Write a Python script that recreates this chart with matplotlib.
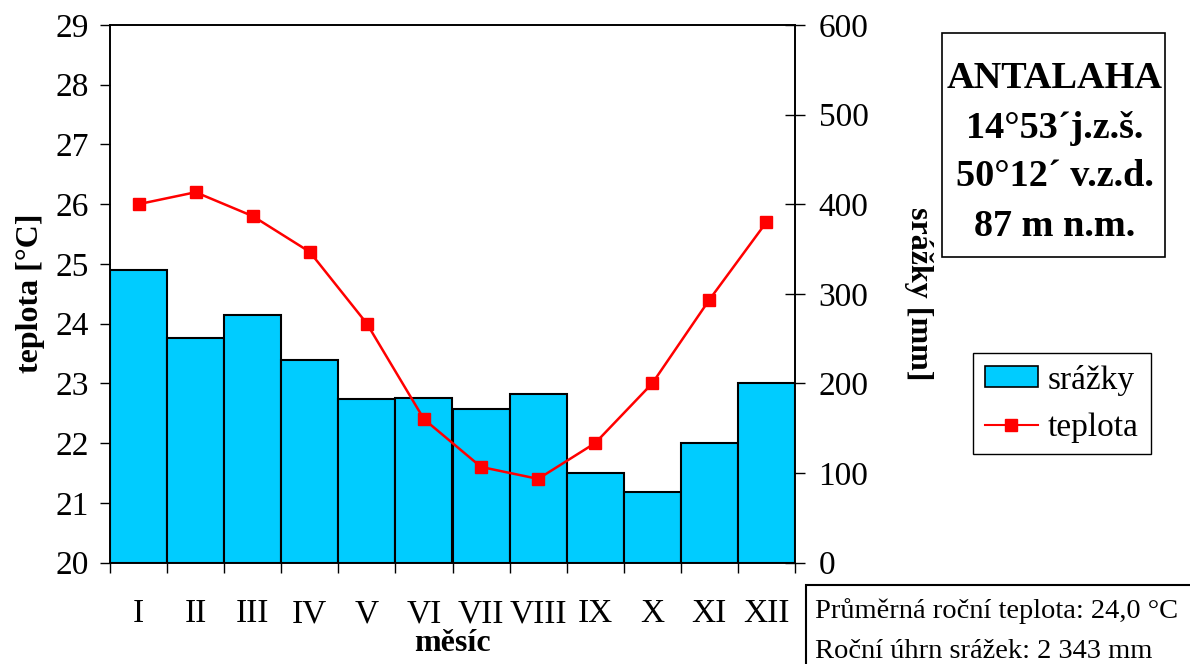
import matplotlib
matplotlib.use("Agg")
import matplotlib.pyplot as plt
from matplotlib.patches import Rectangle
from matplotlib.lines import Line2D
import numpy as np

# Climate data for Antalaha
months = ["I", "II", "III", "IV", "V", "VI", "VII", "VIII", "IX", "X", "XI", "XII"]
precip_mm = [327, 251, 276, 226, 182, 184, 171, 188, 100, 79, 133, 200]
temp_c = [26.0, 26.2, 25.8, 25.2, 24.0, 22.4, 21.6, 21.4, 22.0, 23.0, 24.4, 25.7]
temp_ticks = [20, 21, 22, 23, 24, 25, 26, 27, 28, 29]
precip_ticks = [0, 100, 200, 300, 400, 500, 600]

station_lines = ["ANTALAHA", "14°53´j.z.š.", "50°12´ v.z.d.", "87 m n.m."]
summary_lines = ["Průměrná roční teplota: 24,0 °C", "Roční úhrn srážek: 2 343 mm"]

plt.rcParams["font.family"] = ["Liberation Serif", "DejaVu Serif"]

TICK_FS = 24
LABEL_FS = 23

fig = plt.figure(figsize=(11.9, 6.64), dpi=100)
ax_p = fig.add_axes([110 / 1190, 1 - 562.5 / 664, 685 / 1190, 537.5 / 664])
ax_t = ax_p.twinx()

x = np.arange(len(months))

# Precipitation bars (host axes, scale on the right)
ax_p.bar(x, precip_mm, width=1.0, color="#00CCFF", edgecolor="black",
         linewidth=1.5, zorder=2)
ax_p.set_ylim(0, 600)
ax_p.set_yticks(precip_ticks)
ax_p.yaxis.tick_right()
ax_p.yaxis.set_label_position("right")
ax_p.tick_params(axis="y", which="major", direction="inout", length=14,
                 width=1, labelsize=TICK_FS, pad=10, right=True, left=False)
ax_p.set_ylabel("srážky [mm]", fontsize=LABEL_FS, fontweight="bold", rotation=270)
ax_p.yaxis.set_label_coords(1.2015, 0.5)

# Temperature line (twin axes, scale on the left)
ax_t.plot(x, temp_c, color="#FF0000", linewidth=1.8, marker="s",
          markersize=9, markerfacecolor="#FF0000", markeredgecolor="#FF0000",
          zorder=3)
ax_t.set_ylim(20, 29)
ax_t.set_yticks(temp_ticks)
ax_t.yaxis.tick_left()
ax_t.yaxis.set_label_position("left")
ax_t.tick_params(axis="y", which="major", direction="out", length=7,
                 width=1, labelsize=TICK_FS, pad=8, left=True, right=False)
ax_t.set_ylabel("teplota [°C]", fontsize=LABEL_FS, fontweight="bold")
ax_t.yaxis.set_label_coords(-0.095, 0.5)

# Month axis: ticks on category boundaries, labels at centres
ax_p.set_xlim(-0.5, len(months) - 0.5)
ax_p.set_xticks(np.arange(-0.5, len(months), 1.0))
ax_p.set_xticklabels([])
ax_p.set_xticks(x, minor=True)
ax_p.set_xticklabels(months, minor=True, fontsize=TICK_FS)
ax_p.tick_params(axis="x", which="major", direction="out", length=7, width=1)
ax_p.tick_params(axis="x", which="minor", length=0, pad=26)
ax_p.set_xlabel("měsíc", fontsize=LABEL_FS, fontweight="bold")
ax_p.xaxis.set_label_coords(0.5, -0.124)

for a in (ax_p, ax_t):
    for s in a.spines.values():
        s.set_linewidth(1.2)
        s.set_color("black")

# Legend
handles = [Rectangle((0, 0), 1, 1, facecolor="#00CCFF", edgecolor="black", linewidth=1.2),
           Line2D([], [], color="#FF0000", linewidth=1.5, marker="s",
                  markersize=9, markerfacecolor="#FF0000", markeredgecolor="#FF0000")]
fig.legend(handles, ["srážky", "teplota"], loc="upper left",
           bbox_to_anchor=(973 / 1190, 1 - 353 / 664), fontsize=TICK_FS,
           frameon=True, fancybox=False, edgecolor="black", framealpha=1,
           handlelength=1.6, handleheight=0.6, handletextpad=0.3, borderpad=0.35,
           labelspacing=0.5, borderaxespad=0)

# Station info box
fig.patches.append(Rectangle((942 / 1190, 1 - 257 / 664), 223 / 1190, 224 / 664,
                             transform=fig.transFigure, facecolor="white",
                             edgecolor="black", linewidth=1.2))
for i, line in enumerate(station_lines):
    fig.text(1055 / 1190, 1 - (79 + 49 * i) / 664, line, fontsize=27.5,
             fontweight="bold", ha="center", va="center")

# Annual summary box
fig.patches.append(Rectangle((806 / 1190, -0.05), 0.4, 1 - 585 / 664 + 0.05,
                             transform=fig.transFigure, facecolor="white",
                             edgecolor="black", linewidth=1.5))
for i, line in enumerate(summary_lines):
    fig.text(815 / 1190, 1 - (611 + 41 * i) / 664, line, fontsize=20.5,
             ha="left", va="center")

fig.savefig("out.png", dpi=100)
